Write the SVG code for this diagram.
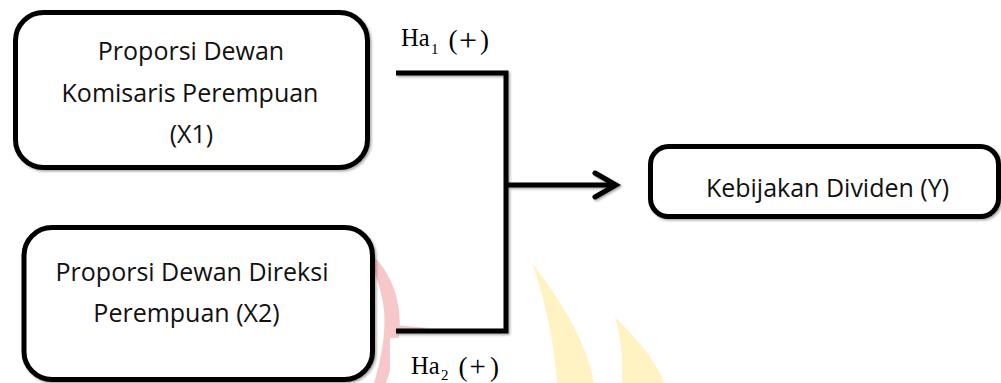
<svg xmlns="http://www.w3.org/2000/svg" width="1001" height="383" viewBox="0 0 1001 383">
<defs>
<filter id="sh" x="-5%" y="-5%" width="115%" height="115%">
<feDropShadow dx="1.5" dy="1.5" stdDeviation="1.2" flood-color="#000" flood-opacity="0.35"/>
</filter>
<style>
.box{fill:#fff;stroke:#000;stroke-width:5}
.t{font-family:"Open Sans","Liberation Sans",sans-serif;font-size:25px;fill:#111;text-anchor:middle}
.lbl{font-family:"Liberation Serif","Times New Roman",serif;fill:#000}
.con{fill:none;stroke:#000;stroke-width:5}
</style>
</defs>
<rect width="1001" height="383" fill="#fff"/>
<g id="watermark">
<path d="M360 245 C390 265 403 300 399 335 C396 355 390 370 386 383 L374 383 C381 360 386 335 384 310 C381 285 373 265 360 245 Z" fill="#f7c8ca"/>
<path d="M395 325 L428 328 L395 333 Z" fill="#f7c8ca"/>
<path d="M532 263 C556 295 585 335 594 383 L557 383 C554 340 545 300 532 263 Z" fill="#fff3c4"/>
<path d="M615 317 C636 338 656 360 664 383 L622 383 C623 360 621 338 615 317 Z" fill="#fff3c4"/>
<rect x="390" y="338" width="110" height="45" fill="#fff"/>
</g>
<g id="connectors" filter="url(#sh)">
<path class="con" d="M396 73 H506 V331 H396"/>
<path class="con" d="M506 185 H615"/>
<path class="con" d="M595 173 L616 185 L595 197" stroke-linecap="round" stroke-linejoin="miter"/>
</g>
<g id="node-x1">
<rect class="box" x="15.5" y="12.5" width="352" height="155" rx="28" filter="url(#sh)"/>
<text class="t" x="191" y="60">Proporsi Dewan</text>
<text class="t" x="190" y="101.5">Komisaris Perempuan</text>
<text class="t" x="191.5" y="143">(X1)</text>
</g>
<g id="node-x2">
<rect class="box" x="24" y="227.5" width="348.5" height="152" rx="28" filter="url(#sh)"/>
<text class="t" x="192" y="280.5">Proporsi Dewan Direksi</text>
<text class="t" x="186.5" y="322">Perempuan (X2)</text>
</g>
<g id="node-y">
<rect class="box" x="650.5" y="146.5" width="348" height="70" rx="18" filter="url(#sh)"/>
<text class="t" x="827.5" y="196.5">Kebijakan Dividen (Y)</text>
</g>
<g id="label-ha1" class="lbl">
<text x="401" y="46" font-size="24.5">Ha</text>
<text x="431" y="54" font-size="15">1</text>
<text x="448.5" y="48.5" font-size="27">(</text>
<text x="459" y="51" font-size="32">+</text>
<text x="480" y="48.5" font-size="27">)</text>
</g>
<g id="label-ha2" class="lbl">
<text x="411" y="374" font-size="24.5">Ha</text>
<text x="441" y="379.5" font-size="15">2</text>
<text x="458.5" y="376" font-size="27">(</text>
<text x="469.5" y="376" font-size="29">+</text>
<text x="490" y="376" font-size="27">)</text>
</g>
</svg>
